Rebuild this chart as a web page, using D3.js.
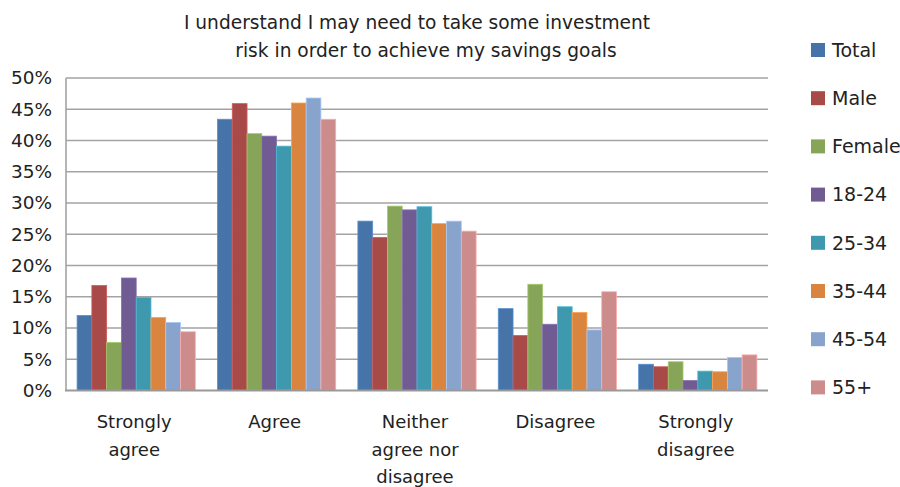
<!DOCTYPE html>
<html><head><meta charset="utf-8">
<script src="https://cdn.jsdelivr.net/npm/d3@7"></script>
<style>body{margin:0;background:#fff;} svg{display:block;}</style>
</head><body>
<svg id="chart" width="900" height="487"></svg>
<script>
const categories = ["Strongly agree", "Agree", "Neither agree nor disagree", "Disagree", "Strongly disagree"];
const categoryLines = [["Strongly","agree"],["Agree"],["Neither","agree nor","disagree"],["Disagree"],["Strongly","disagree"]];
const seriesNames = ["Total","Male","Female","18-24","25-34","35-44","45-54","55+"];
const Total   = [12.0, 43.4, 27.1, 13.1, 4.2];
const Male    = [16.8, 45.9, 24.5,  8.8, 3.8];
const Female  = [ 7.7, 41.1, 29.5, 17.0, 4.6];
const Age1824 = [18.0, 40.7, 28.9, 10.6, 1.6];
const Age2534 = [14.9, 39.1, 29.4, 13.4, 3.1];
const Age3544 = [11.7, 46.0, 26.7, 12.5, 3.0];
const Age4554 = [10.9, 46.8, 27.1,  9.7, 5.3];
const Age55   = [ 9.4, 43.4, 25.5, 15.8, 5.7];
const seriesValues = [Total, Male, Female, Age1824, Age2534, Age3544, Age4554, Age55];
const yTicks = [0,5,10,15,20,25,30,35,40,45,50];
const colors = ["#4674A8","#A84A48","#86A558","#705B92","#3E98AE","#D9843F","#88A4CC","#CC8C8C"];
const title = ["I understand I may need to take some investment","risk in order to achieve my savings goals"];

const svg = d3.select("#chart");
const font = "DejaVu Sans";
const pLeft = 66, pRight = 768, pTop = 78, pBottom = 390.5;

const x0 = d3.scaleBand().domain(categories).range([pLeft, pRight]).paddingInner(0).paddingOuter(0);
const y = d3.scaleLinear().domain([0, 50]).range([pBottom, pTop]);
// Excel-style gap width 150%: 8 bars + 1.5 bar gap per category
const x1 = d3.scaleBand().domain(seriesNames)
  .range([x0.bandwidth() * 0.75/9.5, x0.bandwidth() * (1 - 0.75/9.5)]).padding(0);

// gridlines
svg.append("g").selectAll("line").data(yTicks.filter(t => t > 0)).join("line")
  .attr("x1", pLeft).attr("x2", pRight)
  .attr("y1", d => y(d)).attr("y2", d => y(d))
  .attr("stroke", "#a3a3a3").attr("stroke-width", 1.6);

// bars
const groups = svg.append("g").selectAll("g").data(categories).join("g")
  .attr("transform", d => `translate(${x0(d)},0)`);
groups.selectAll("rect").data((c, ci) => seriesNames.map((s, si) => ({s, si, v: seriesValues[si][ci]})))
  .join("rect")
  .attr("x", d => x1(d.s)).attr("width", x1.bandwidth())
  .attr("y", d => y(d.v)).attr("height", d => y(0) - y(d.v))
  .attr("fill", d => colors[d.si])
  .attr("stroke", d => d3.color(colors[d.si]).brighter(0.6))
  .attr("stroke-width", 0.8);

// axes lines
svg.append("line").attr("x1", pLeft).attr("x2", pLeft).attr("y1", pTop).attr("y2", pBottom)
  .attr("stroke", "#a3a3a3").attr("stroke-width", 1.6);
svg.append("line").attr("x1", pLeft - 1).attr("x2", pRight).attr("y1", pBottom).attr("y2", pBottom)
  .attr("stroke", "#999").attr("stroke-width", 2);

// y tick labels
const yAxis = d3.axisLeft(y).tickValues(yTicks).tickFormat(d => d + "%").tickSize(0).tickPadding(14);
const ya = svg.append("g").attr("transform", `translate(${pLeft},0)`).call(yAxis);
ya.select(".domain").remove();
ya.selectAll("text").attr("font-family", font).attr("font-size", 18.5).attr("fill", "#222");

// category labels
svg.append("g").selectAll("text").data(categories).join("text")
  .attr("x", d => x0(d) + x0.bandwidth() / 2 - 2)
  .attr("y", 428)
  .attr("text-anchor", "middle")
  .attr("font-family", font).attr("font-size", 18).attr("fill", "#222")
  .each(function(d, i) {
    d3.select(this).selectAll("tspan").data(categoryLines[i]).join("tspan")
      .attr("x", x0(d) + x0.bandwidth() / 2 - 2)
      .attr("dy", (t, j) => j === 0 ? 0 : 27.5)
      .text(t => t);
  });

// title
svg.append("text").attr("text-anchor", "middle").attr("font-family", font).attr("font-size", 18.6).attr("fill", "#222")
  .selectAll("tspan").data(title).join("tspan")
  .attr("x", (t, i) => i === 0 ? 417 : 426).attr("y", (t, i) => 29 + i * 28).text(t => t);

// legend
const lg = svg.append("g").selectAll("g").data(seriesNames).join("g")
  .attr("transform", (d, i) => `translate(811,${50 + i * 48.2})`);
lg.append("rect").attr("x", 0).attr("y", -7).attr("width", 14).attr("height", 14)
  .attr("fill", (d, i) => colors[i]);
lg.append("text").attr("x", 21).attr("y", 0).attr("dy", "0.36em")
  .attr("font-family", font).attr("font-size", 19).attr("fill", "#222").text(d => d);
</script>
</body></html>
